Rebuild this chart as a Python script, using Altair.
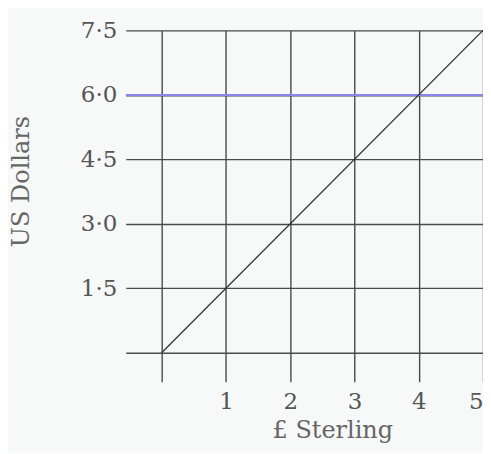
import altair as alt
import pandas as pd

pounds = [0, 5]
dollars = [0, 7.5]
x_ticks = [0, 1, 2, 3, 4, 5]
y_ticks = [0, 1.5, 3.0, 4.5, 6.0, 7.5]
level = [6.0]

W, H = 322, 323
FONT = "DejaVu Serif"
GRID = "#4a4a4a"

line_df = pd.DataFrame({"pounds": pounds, "dollars": dollars})
level_df = pd.DataFrame({"dollars": level})

x_axis = alt.Axis(
    values=x_ticks, grid=True, gridColor=GRID, gridWidth=1.4, gridOpacity=1,
    domain=False, ticks=True, tickSize=29, tickColor=GRID, tickWidth=1.4,
    labelExpr="datum.value == 0 ? '' : datum.label", labelFont=FONT, labelFontSize=23,
    labelColor="#555", labelPadding=9,
    title="£ Sterling", titleFont=FONT, titleFontSize=24, titleFontWeight="normal",
    titleColor="#666", titleX=171, titleY=78, titleBaseline="middle", titleAlign="center",
)
y_axis = alt.Axis(
    values=y_ticks, grid=True, gridColor=GRID, gridWidth=1.4, gridOpacity=1,
    domain=False, ticks=True, tickSize=36, tickColor=GRID, tickWidth=1.4,
    labelExpr="datum.value == 0 ? '' : replace(format(datum.value, '.1f'), '.', '·')",
    labelFont=FONT, labelFontSize=23, labelColor="#555", labelPadding=9,
    title="US Dollars", titleFont=FONT, titleFontSize=24, titleFontWeight="normal",
    titleColor="#666", titleX=-140, titleY=151, titleAngle=-90,
    titleBaseline="middle", titleAlign="center",
)

x_scale = alt.Scale(domain=[0, 5], nice=False, zero=False)
y_scale = alt.Scale(domain=[0, 7.5], nice=False, zero=False)

diag = alt.Chart(line_df).mark_line(color="#333", strokeWidth=1.3).encode(
    x=alt.X("pounds:Q", scale=x_scale, axis=x_axis),
    y=alt.Y("dollars:Q", scale=y_scale, axis=y_axis),
)

blue = alt.Chart(level_df).mark_rule(color="#8a86f0", strokeWidth=2, clip=False).encode(
    y=alt.Y("dollars:Q", scale=y_scale),
    x=alt.value(-36),
    x2=alt.value(W),
)

chart = alt.layer(blue, diag).properties(
    width=W, height=H,
    autosize=alt.AutoSizeParams(type="none"),
    padding={"left": 154, "top": 22, "right": 0, "bottom": 100},
    background="#f7f8f8",
).configure_view(stroke=None)

chart.save("out.html", embed_options={"renderer": "svg", "actions": False})
